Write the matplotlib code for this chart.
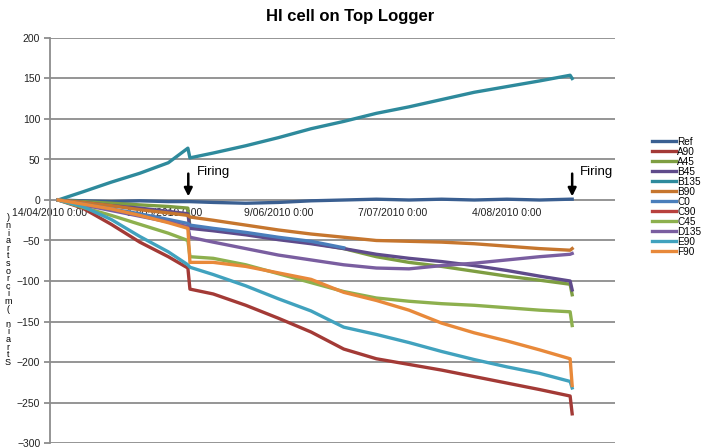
import numpy as np
import matplotlib.pyplot as plt

# days after 14/04/2010 (x axis), shared by all series
days = [2, 8, 15, 22, 29, 33.8, 34.3, 40, 48, 56, 64, 72, 80, 88, 96, 104, 112, 120, 127.5, 128]

nan = np.nan
ref   = [0, -1, -2, -1, -2, -2, -2, -3, -4, -3, -1, 0, 1, 0, 1, 0, 1, 0, 1, 1]
a90   = [0, -10, -30, -52, -70, -84, -110, -116, -130, -146, -163, -184, -196, -203, -210, -218, -226, -234, -242, -264]
a45   = [0, -2, -4, -6, -8, -10, -33, -36, -41, -47, -53, -60, -70, -77, -82, -88, -94, -99, -104, -117]
b45   = [0, -3, -7, -10, -14, -17, -35, -38, -43, -49, -54, -60, -67, -72, -76, -81, -87, -94, -100, -111]
b135  = [0, 10, 22, 33, 46, 64, 52, 58, 67, 77, 88, 97, 107, 115, 124, 133, 140, 147, 154, 150]
b90   = [0, -3, -7, -12, -16, -19, -21, -25, -31, -37, -42, -46, -50, -51, -52, -54, -57, -60, -62, -60]
c0    = [0, -5, -11, -17, -24, -29, -31, -35, -40, -46, -51, -59, nan, nan, nan, nan, nan, nan, nan, nan]
c90   = [nan] * 20
c45   = [0, -9, -19, -30, -41, -50, -70, -72, -80, -91, -102, -113, -121, -125, -128, -130, -133, -136, -138, -155]
d135  = [0, -6, -13, -20, -27, -33, -46, -52, -60, -68, -74, -80, -84, -85, -81, -78, -74, -70, -67, -66]
e90   = [0, -8, -24, -45, -64, -80, -83, -92, -106, -122, -137, -157, -166, -176, -187, -197, -206, -214, -224, -232]
f90   = [0, -5, -11, -19, -28, -35, -77, -77, -82, -90, -98, -114, -124, -136, -152, -164, -174, -185, -196, -229]

names = ["Ref", "A90", "A45", "B45", "B135", "B90", "C0", "C90", "C45", "D135", "E90", "F90"]
series = [ref, a90, a45, b45, b135, b90, c0, c90, c45, d135, e90, f90]
colors = ["#3A5F91", "#A33A36", "#7E9E42", "#5F4B8B", "#2E8A9C", "#C6762E",
          "#4A7EBB", "#B8413D", "#8DB04E", "#7A5EA0", "#41A2BE", "#E8893A"]

tick_days = [0, 28, 56, 84, 112]
tick_labels = ["14/04/2010 0:00", "12/05/2010 0:00", "9/06/2010 0:00", "7/07/2010 0:00", "4/08/2010 0:00"]
firing_days = [33.9, 128]

plt.rcParams['font.family'] = ['Liberation Sans', 'DejaVu Sans']

fig = plt.figure(figsize=(7.01, 4.48), dpi=100)
ax = fig.add_axes([50 / 701, 5 / 448, 565 / 701, 405 / 448])

for name, vals, c in zip(names, series, colors):
    ax.plot(days, vals, color=c, lw=2.4, label=name, solid_joinstyle='round')

ax.set_ylim(-300, 200)
ax.set_yticks(range(-300, 201, 50))
ax.set_xlim(0.4, 138.5)
ax.set_xticks(tick_days)
ax.set_xticklabels(tick_labels)

ax.grid(axis='y', color='#8c8c8c', lw=1.3)
ax.set_axisbelow(True)
for s in ['top', 'right']:
    ax.spines[s].set_visible(False)
ax.spines['bottom'].set_position(('data', 0))
ax.spines['bottom'].set_visible(False)
ax.spines['left'].set_color('#8c8c8c')
ax.spines['left'].set_linewidth(1.3)
ax.tick_params(axis='x', length=0, pad=6, labelsize=7.5, colors='#222222')
ax.tick_params(axis='y', length=4, width=1.3, color='#8c8c8c', labelsize=7.5, labelcolor='#222222', pad=3)

for d in firing_days:
    ax.annotate("", xy=(d, 1), xytext=(d, 36),
                arrowprops=dict(arrowstyle='-|>', color='black', lw=1.8, mutation_scale=12))
    ax.text(d + 2, 34, "Firing", fontsize=9.5, va='center', ha='left')

fig.text(0.5, 1 - 17 / 448, "HI cell on Top Logger", ha='center', va='center',
         fontsize=12, fontweight='bold')

ylab = "\n".join(reversed("Strain (microstrain)"))
fig.text(8 / 701, 1 - 290 / 448, ylab, ha='center', va='center', fontsize=6.5, linespacing=0.8)

fig.legend(loc='center left', bbox_to_anchor=(647 / 701, 1 - 197 / 448), frameon=False,
           fontsize=7.2, handlelength=2.4, handletextpad=0.1, labelspacing=0.0, borderpad=0)

fig.savefig("out.png", dpi=100)
